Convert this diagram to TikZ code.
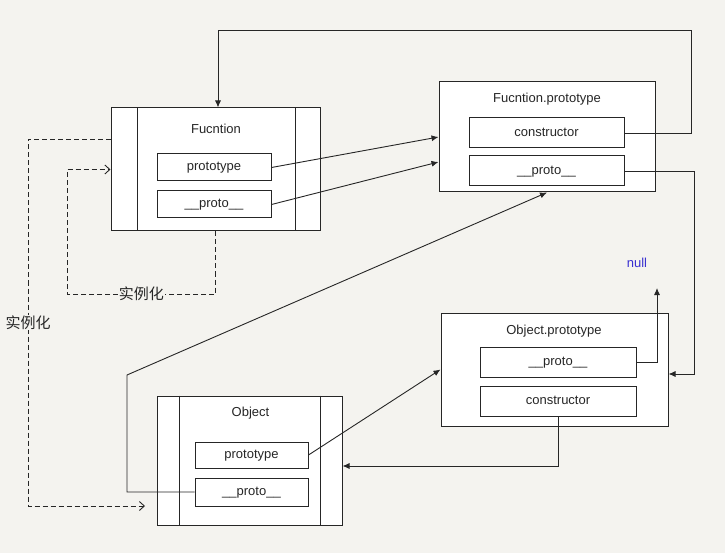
\documentclass[tikz,border=0pt]{standalone}
\usepackage{fontspec}
\setmainfont{Liberation Sans}
\newfontfamily\cjk{Noto Sans CJK SC}
\usetikzlibrary{arrows.meta}
\usetikzlibrary{positioning}
\definecolor{paper}{HTML}{F4F3EF}
\definecolor{ink}{HTML}{262626}
\definecolor{nullblue}{HTML}{3A30D0}
\tikzset{
  box/.style={rectangle,draw=ink,fill=white,line width=1pt,inner sep=0pt},
  field/.style={rectangle,draw=ink,fill=white,line width=1pt,inner sep=0pt,text=ink,text height=9.4pt,text depth=2.6pt,font=\fontsize{13}{15}\selectfont},
  title/.style={text=ink,text height=9.4pt,text depth=2.6pt,font=\fontsize{13}{15}\selectfont},
  link/.style={draw=ink,line width=0.9pt,-{Latex[length=7pt,width=6pt]}},
  inst/.style={draw=ink,line width=0.9pt,dash pattern=on 5pt off 3pt,-{Straight Barb[length=5pt,width=9pt]}},
  cn/.style={fill=paper,inner sep=1pt,text=ink,font=\cjk\fontsize{15}{17}\selectfont}
}

\begin{document}
\begin{tikzpicture}[x=1pt,y=-1pt]
\fill[paper] (0,0) rectangle (725,553);
\useasboundingbox (0,0) rectangle (725,553);
% Fucntion
\node[box,minimum width=209pt,minimum height=123pt](fn) at (215.5,169.5){};
\draw[ink,line width=1pt] ([xshift=27pt]fn.north west) -- ([xshift=27pt]fn.south west);
\draw[ink,line width=1pt] ([xshift=-25pt]fn.north east) -- ([xshift=-25pt]fn.south east);
\node[title](fnt) at (216,130){Fucntion};
\node[field,minimum width=114pt,minimum height=27pt](fnpt) at (214,167.5){prototype};
\node[field,minimum width=114pt,minimum height=27pt,below=9pt of fnpt](fnpr){\_\_proto\_\_};
% Fucntion.prototype
\node[box,minimum width=216pt,minimum height=110pt](fp) at (547,137){};
\node[title](fpt) at (547,99){Fucntion.prototype};
\node[field,minimum width=155pt,minimum height=30pt](fpco) at (546.5,133){constructor};
\node[field,minimum width=155pt,minimum height=30pt,below=7pt of fpco](fppr){\_\_proto\_\_};
% Object.prototype
\node[box,minimum width=227pt,minimum height=113pt](op) at (554.5,369.5){};
\node[title](opt) at (554,331){Object.prototype};
\node[field,minimum width=156pt,minimum height=30pt](oppr) at (558,362){\_\_proto\_\_};
\node[field,minimum width=156pt,minimum height=30pt,below=8pt of oppr](opco){constructor};
% Object
\node[box,minimum width=185pt,minimum height=129pt](ob) at (249.5,460.5){};
\draw[ink,line width=1pt] ([xshift=23pt]ob.north west) -- ([xshift=23pt]ob.south west);
\draw[ink,line width=1pt] ([xshift=-22pt]ob.north east) -- ([xshift=-22pt]ob.south east);
\node[title](obt) at (250.5,413){Object};
\node[field,minimum width=113pt,minimum height=26pt](obpt) at (251.5,455){prototype};
\node[field,minimum width=113pt,minimum height=28pt,below=9pt of obpt](obpr){\_\_proto\_\_};
% null
\node[text=nullblue,font=\fontsize{13}{15}\selectfont](nul) at (637,263){null};

\coordinate (r1) at (691,30);
\coordinate (r2) at (694,374);
\coordinate (r4) at (127,375);
\coordinate (nl) at (657,288);
\draw[link] (fpco.east) -| (r1) -| ([xshift=2.5pt]fn.north);
\draw[link] (fppr.east) -| (r2) -- (r2 -| op.east);
\draw[link] (oppr.east) -| (nl);
\draw[link] (opco.south) |- ([yshift=-5.5pt]ob.east);
\draw[link] (fnpt.east) -- (fp.west);
\draw[link] (fnpr.east) -- ([yshift=-25pt]fp.west);
\draw[link] (obpt.east) -- (op.west);
\draw[link] (obpr.west) -| (r4) -- (fp.south);

% instantiation
\coordinate (d1) at (67,294);
\coordinate (d2) at (28,506);
\coordinate (d3) at (145,506);
\draw[inst] (fn.south) -- (fn.south |- d1) -- node[cn]{实例化} (d1) |- (fn.west);
\draw[inst] ([yshift=30.5pt]fn.west) -| node[cn,pos=0.75]{实例化} (d2) -- (d3);
\end{tikzpicture}
\end{document}
